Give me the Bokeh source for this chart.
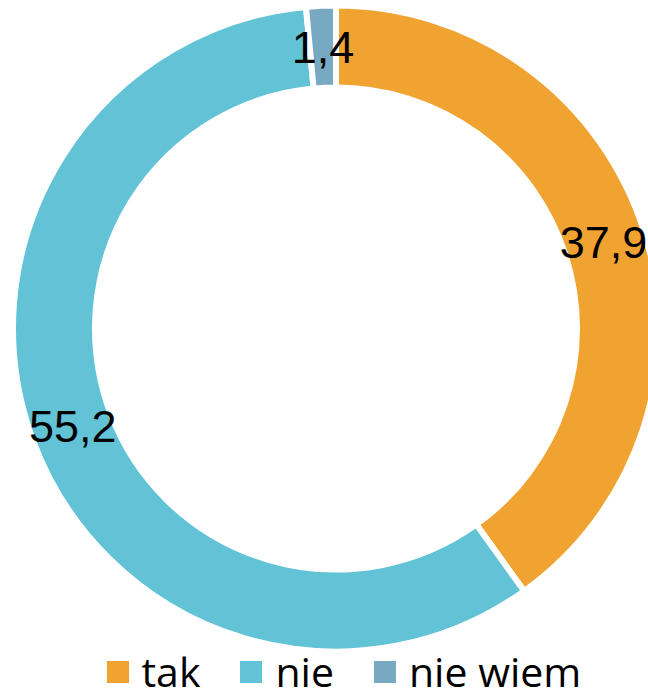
import numpy as np
from bokeh.plotting import figure
from bokeh.models import ColumnDataSource, Range1d, Legend, LegendItem
from bokeh.core.properties import value
from bokeh.embed import file_html
from bokeh.resources import INLINE

# ---- data ----
categories = ["tak", "nie", "nie wiem"]
values = [37.9, 55.2, 1.4]
value_labels = ["37,9", "55,2", "1,4"]
colors = ["#F0A330", "#62C3D6", "#78A9C3"]

# ---- layout constants ----
W, H = 648, 694
CX, CY = 335.5, 366.0
R_OUT, R_IN = 323.0, 241.0
R_LABEL = 281.0

vals = np.array(values, dtype=float)
frac = vals / vals.sum()
cum = np.concatenate([[0.0], np.cumsum(frac)])
start = np.pi / 2 - 2 * np.pi * cum[:-1]
end = np.pi / 2 - 2 * np.pi * cum[1:]
mid = (start + end) / 2

src = ColumnDataSource(dict(
    cat=categories, val=values, start=start, end=end, color=colors,
    lx=CX + R_LABEL * np.cos(mid), ly=CY + R_LABEL * np.sin(mid),
    txt=value_labels,
))

p = figure(width=W, height=H, output_backend="svg", toolbar_location=None,
           x_range=Range1d(0, W), y_range=Range1d(0, H),
           x_axis_type=None, y_axis_type=None, min_border=0,
           outline_line_color=None, background_fill_color="white",
           border_fill_color="white")
p.grid.visible = False

wedges = p.annular_wedge(x=CX, y=CY, inner_radius=R_IN, outer_radius=R_OUT,
                         start_angle="start", end_angle="end", direction="clock",
                         fill_color="color", line_color="white", line_width=6,
                         source=src)

p.text(x="lx", y="ly", text="txt", source=src, text_align="center",
       text_baseline="middle", text_font=value("Liberation Sans"),
       text_font_size="45px", text_color="black")

items = [LegendItem(label=c, renderers=[wedges], index=i) for i, c in enumerate(categories)]
legend = Legend(items=items, orientation="horizontal", location=(99.5, -5),
                glyph_width=35, glyph_height=35, label_standoff=7, spacing=33,
                padding=0, margin=0, border_line_color=None,
                background_fill_alpha=0,
                label_text_font="Open Sans", label_text_font_size="41px",
                label_text_color="black")
p.add_layout(legend)

open("out.html", "w").write(file_html(p, INLINE))
